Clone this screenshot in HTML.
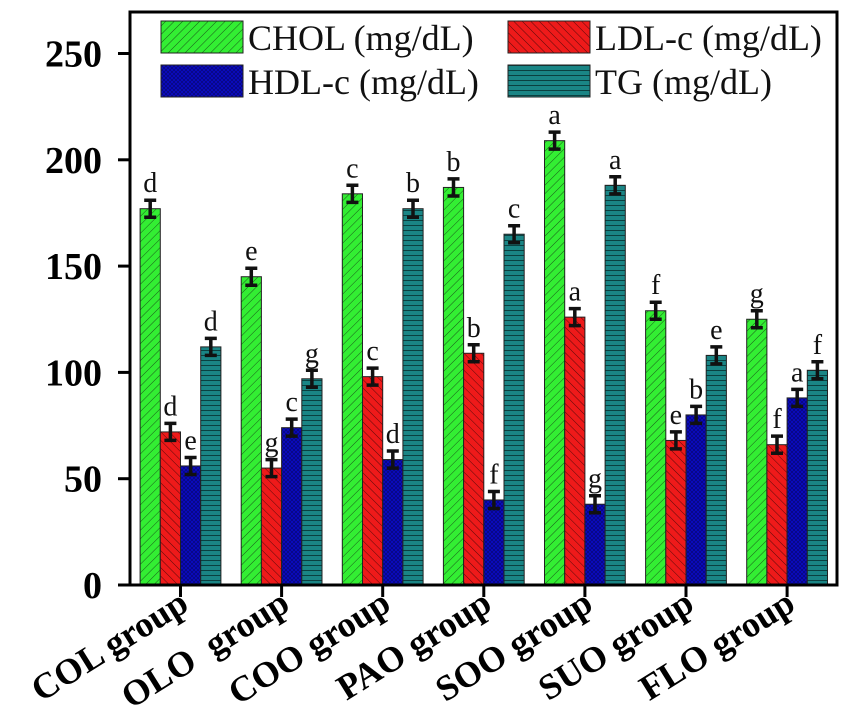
<!DOCTYPE html>
<html><head><meta charset="utf-8"><style>body{margin:0;background:#fff}svg{display:block}</style></head>
<body>
<svg id="chart" width="851" height="720" viewBox="0 0 851 720" font-family="Liberation Serif, serif">
<defs>
<pattern id="pg" patternUnits="userSpaceOnUse" width="6" height="6" patternTransform="rotate(45)"><rect width="6" height="6" fill="#33ee33"/><line x1="0" y1="0" x2="0" y2="6" stroke="#1a5a1a" stroke-width="1"/></pattern>
<pattern id="pr" patternUnits="userSpaceOnUse" width="6" height="6" patternTransform="rotate(-45)"><rect width="6" height="6" fill="#ee1a1a"/><line x1="0" y1="0" x2="0" y2="6" stroke="#5a0a0a" stroke-width="1"/></pattern>
<pattern id="pb" patternUnits="userSpaceOnUse" width="4" height="4"><rect width="4" height="4" fill="#0a0ac0"/><path d="M0 0L4 4M4 0L0 4" stroke="#06066a" stroke-width="0.6"/></pattern>
<pattern id="pt" patternUnits="userSpaceOnUse" width="6" height="5"><rect width="6" height="5" fill="#1a8585"/><line x1="0" y1="0.5" x2="6" y2="0.5" stroke="#0a4040" stroke-width="1"/></pattern>
</defs>
<g id="plot"></g>
</svg>
<script>
const categories = ["COL group","OLO  group","COO group","PAO group","SOO group","SUO group","FLO group"];
const chol = [177,145,184,187,209,129,125];
const ldl  = [72,55,98,109,126,68,66];
const hdl  = [56,74,59,40,38,80,88];
const tg   = [112,97,177,165,188,108,101];
const errs = [4,4,4,4,4,4,4];
const cholLetters = ["d","e","c","b","a","f","g"];
const ldlLetters  = ["d","g","c","b","a","e","f"];
const hdlLetters  = ["e","c","d","f","g","b","a"];
const tgLetters   = ["d","g","b","c","a","e","f"];
const yTicks = [0,50,100,150,200,250];

const NS="http://www.w3.org/2000/svg";
const g=document.getElementById('plot');
const L=130,R=837,T=12,B=585;
const y=v=>B-v*(B-53.5)/250;
const x=i=>180.5+i*101.1;
function mk(t,a,p){const e=document.createElementNS(NS,t);for(const k in a)e.setAttribute(k,a[k]);(p||g).appendChild(e);return e;}
const series=[[chol,'url(#pg)',cholLetters,'chol'],[ldl,'url(#pr)',ldlLetters,'ldl'],[hdl,'url(#pb)',hdlLetters,'hdl'],[tg,'url(#pt)',tgLetters,'tg']];
const bw=20.2;
categories.forEach((c,i)=>{
  series.forEach((s,j)=>{
    const v=s[0][i], bx=x(i)-2*bw+j*bw, cx=bx+bw/2;
    const r=mk('rect',{x:bx,y:y(v),width:bw,height:B-y(v),fill:s[1],stroke:'#222','stroke-width':1});
    
    
    const e=errs[i];
    const eb=mk('path',{d:`M${cx} ${y(v+e)}V${y(v-e)}M${cx-6} ${y(v+e)}H${cx+6}M${cx-6} ${y(v-e)}H${cx+6}`,stroke:'#111','stroke-width':3.5,fill:'none'});
    
    
    const t=mk('text',{x:cx,y:y(v+e)-8,'font-size':28,'text-anchor':'middle',fill:'#111'});
    t.textContent=s[2][i];
    
    
  });
  const tk=mk('line',{x1:x(i),y1:B,x2:x(i),y2:B+12,stroke:'#000','stroke-width':3});
  
  
  const lb=mk('text',{x:0,y:0,'font-size':36,'font-weight':'bold','text-anchor':'end',fill:'#000',style:'white-space:pre',transform:`translate(${x(i)+10},${B+24}) rotate(-32)`});
  lb.textContent=c;
  
  
});
yTicks.forEach(v=>{
  const tk=mk('line',{x1:L-12,y1:y(v),x2:L,y2:y(v),stroke:'#000','stroke-width':3});
  
  
  const t=mk('text',{x:102,y:y(v)+13,'font-size':38,'font-weight':'bold','text-anchor':'end',fill:'#000'});
  t.textContent=v;
  
  
});
const fr=mk('rect',{x:L,y:T,width:R-L,height:B-T,fill:'none',stroke:'#000','stroke-width':3});


const leg=[['CHOL (mg/dL)','url(#pg)',161,21],['LDL-c (mg/dL)','url(#pr)',508,21],['HDL-c (mg/dL)','url(#pb)',161,65],['TG (mg/dL)','url(#pt)',508,65]];
leg.forEach(l=>{
  const r=mk('rect',{x:l[2],y:l[3],width:82,height:32,fill:l[1],stroke:'#222','stroke-width':1});
  
  
  const t=mk('text',{x:l[2]+87,y:l[3]+29,'font-size':36,fill:'#111'});
  t.textContent=l[0];
  
  
});
</script>
</body></html>
